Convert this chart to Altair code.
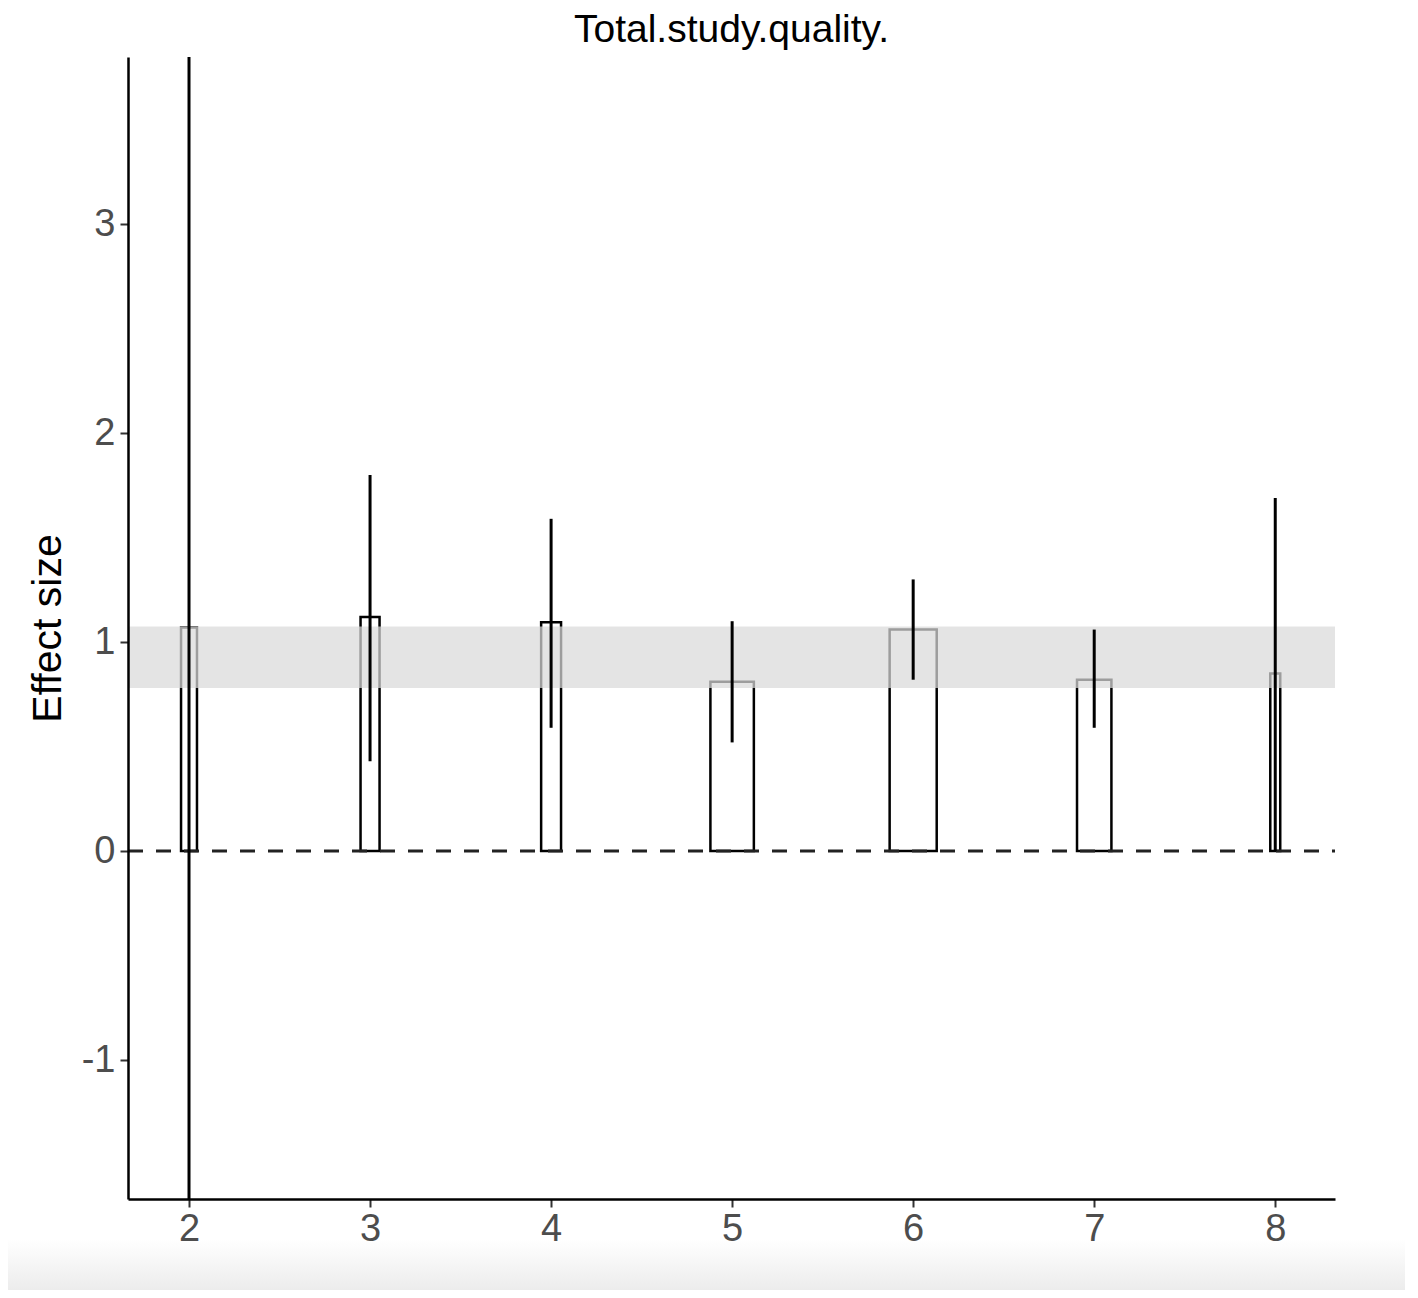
import altair as alt
import pandas as pd

quality = [2, 3, 4, 5, 6, 7, 8]
effect = [1.07, 1.12, 1.095, 0.81, 1.06, 0.82, 0.85]
bar_width = [0.088, 0.105, 0.11, 0.24, 0.26, 0.19, 0.055]
ci_low = [-5.0, 0.43, 0.59, 0.52, 0.82, 0.59, 0.0]
ci_high = [8.0, 1.80, 1.59, 1.10, 1.30, 1.06, 1.69]
band_low = [0.78]
band_high = [1.075]
y_ticks = [-1, 0, 1, 2, 3]

df = pd.DataFrame({
    "q": quality,
    "es": effect,
    "w": bar_width,
    "lo": ci_low,
    "hi": ci_high,
})
df["x1"] = df["q"] - df["w"] / 2
df["x2"] = df["q"] + df["w"] / 2
df["zero"] = 0.0

W, H = 1207, 1142
FONT = "Liberation Sans"
xscale = alt.Scale(domain=[1.663, 8.33], nice=False, zero=False)
yscale = alt.Scale(domain=[-1.665, 3.8], nice=False, zero=False)

xaxis = alt.Axis(values=quality, title=None, grid=False, domainColor="black",
                 domainWidth=2.5, tickColor="#333333", tickWidth=2, tickSize=8,
                 labelFontSize=38, labelColor="#4d4d4d", labelPadding=3,
                 labelFont=FONT, labelExpr="'' + datum.value", zindex=1)
yaxis = alt.Axis(values=y_ticks, title="Effect size", grid=False,
                 domainColor="black", domainWidth=2.5, tickColor="#333333",
                 tickWidth=2, tickSize=8, labelFontSize=38, labelColor="#4d4d4d",
                 labelPadding=5, labelFont=FONT, labelExpr="'' + datum.value",
                 titleFontSize=41, titleFont=FONT, titleColor="black",
                 titleFontWeight="normal", titlePadding=12, zindex=1)

base = alt.Chart(df)

bg_df = pd.DataFrame({"k": [0]})
bottom_shade = alt.Chart(bg_df).mark_rect(
    color=alt.LinearGradient(
        gradient="linear",
        stops=[alt.GradientStop(color="#ffffff", offset=0),
               alt.GradientStop(color="#ececec", offset=1)],
        x1=0, x2=0, y1=0, y2=1,
    ),
    clip=False,
).encode(
    x=alt.value(-120), x2=alt.value(W + 70),
    y=alt.value(H + 40), y2=alt.value(H + 91),
)

bars = base.mark_bar(fill="white", stroke="black", strokeWidth=2.5, clip=True).encode(
    x=alt.X("x1:Q", scale=xscale, axis=xaxis),
    x2="x2:Q",
    y=alt.Y("es:Q", scale=yscale, axis=yaxis),
    y2="zero:Q",
)

band_df = pd.DataFrame({"lo": band_low, "hi": band_high})
band = alt.Chart(band_df).mark_rect(color="#d9d9d9", opacity=0.72).encode(
    x=alt.value(0), x2=alt.value(W),
    y=alt.Y("lo:Q", scale=yscale), y2="hi:Q",
)

zero_df = pd.DataFrame({"y": [0.0]})
zero_line = alt.Chart(zero_df).mark_rule(color="#222222", strokeWidth=3,
                                         strokeDash=[15, 13]).encode(
    y=alt.Y("y:Q", scale=yscale), x=alt.value(0), x2=alt.value(W),
)

errs = base.mark_rule(color="black", strokeWidth=3, clip=True).encode(
    x=alt.X("q:Q", scale=xscale),
    y=alt.Y("lo:Q", scale=yscale),
    y2="hi:Q",
)

chart = alt.layer(bottom_shade, bars, band, zero_line, errs).properties(
    width=W, height=H,
    background="white",
    view=alt.ViewBackground(strokeWidth=0, strokeOpacity=0),
    title=alt.TitleParams("Total.study.quality.", fontSize=39, font=FONT,
                          fontWeight="normal", color="black", anchor="middle", offset=7),
    autosize=alt.AutoSizeParams(type="none"),
    padding={"left": 120, "top": 49, "right": 70, "bottom": 91},
).configure_view(strokeWidth=0, strokeOpacity=0)

chart.save("out.html", embed_options={"renderer": "svg", "actions": False})
